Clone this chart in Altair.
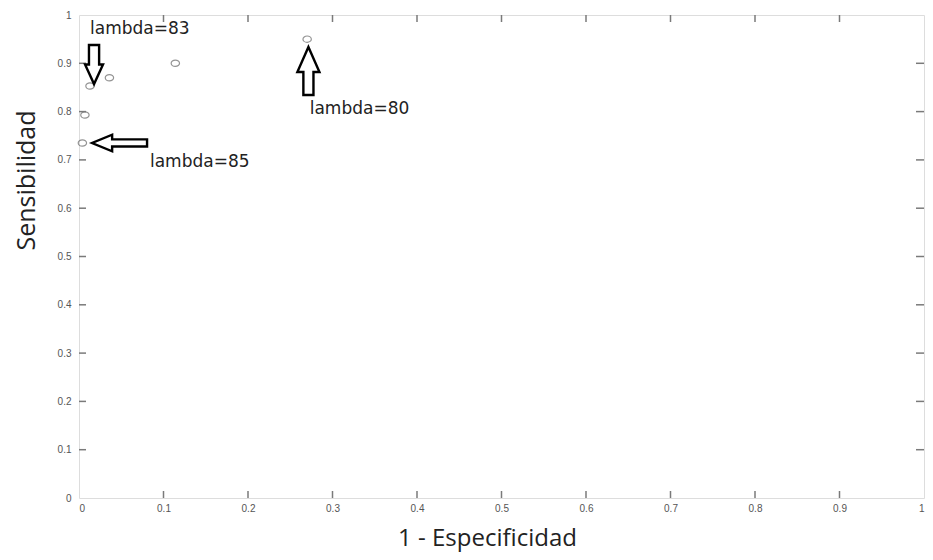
import altair as alt
import pandas as pd

# ROC points
fpr = [0.004, 0.007, 0.013, 0.036, 0.114, 0.270]
tpr = [0.735, 0.793, 0.853, 0.870, 0.900, 0.950]

# annotations
labels = ["lambda=83", "lambda=85", "lambda=80"]
label_x = [0.013, 0.084, 0.273]
label_y = [0.971, 0.696, 0.805]
arrow_x = [0.0178, 0.048, 0.2715]
arrow_y = [0.8975, 0.735, 0.884]
arrow_dir = ["down", "left", "up"]

tick_values = [0.1, 0.2, 0.3, 0.4, 0.5, 0.6, 0.7, 0.8, 0.9]
axis_values = [0, 0.1, 0.2, 0.3, 0.4, 0.5, 0.6, 0.7, 0.8, 0.9, 1]

W, H = 845, 483

pts = pd.DataFrame({"fpr": fpr, "tpr": tpr})
lab = pd.DataFrame({"label": labels, "x": label_x, "y": label_y})
arr = pd.DataFrame({"x": arrow_x, "y": arrow_y, "dir": arrow_dir})
ticks = pd.DataFrame({"v": tick_values})

xs = alt.Scale(domain=[0, 1], nice=False, zero=False)
ys = alt.Scale(domain=[0, 1], nice=False, zero=False)

lab_font = dict(labelFont="Liberation Sans", labelFontSize=10, labelColor="#555555")

base_x = alt.X("fpr:Q", scale=xs, axis=alt.Axis(
    values=axis_values, format="~g", tickSize=0, domain=False, grid=False,
    labelPadding=5, title="1 - Especificidad", titleFont="Open Sans",
    titleFontSize=24, titleFontWeight="normal", titleColor="#222222",
    titleX=408, titleY=40, titleBaseline="middle", titleAlign="center",
    labelFlush=True, **lab_font))
base_y = alt.Y("tpr:Q", scale=ys, axis=alt.Axis(
    values=axis_values, format="~g", tickSize=0, domain=False, grid=False,
    labelPadding=8, title="Sensibilidad", titleFont="Open Sans",
    titleFontSize=25, titleFontWeight="normal", titleColor="#222222",
    titleAngle=270, titleX=-53, titleY=165, titleBaseline="middle",
    titleAlign="center", labelFlush=False, **lab_font))

ellipse = "M -1,0 A 1,0.75 0 1,0 1,0 A 1,0.75 0 1,0 -1,0 Z"
points = alt.Chart(pts).mark_point(
    shape=ellipse, size=70, filled=False, stroke="#666666", strokeWidth=1.2
).encode(x=base_x, y=base_y)

tick_color = "#7a7a7a"
tb = alt.Chart(ticks).mark_rule(color=tick_color, strokeWidth=1.5).encode(
    x=alt.X("v:Q", scale=xs), y=alt.value(H), y2=alt.value(H - 7))
tt = alt.Chart(ticks).mark_rule(color=tick_color, strokeWidth=1.5).encode(
    x=alt.X("v:Q", scale=xs), y=alt.value(0), y2=alt.value(7))
tl = alt.Chart(ticks).mark_rule(color=tick_color, strokeWidth=1.5).encode(
    y=alt.Y("v:Q", scale=ys), x=alt.value(0), x2=alt.value(7))
tr = alt.Chart(ticks).mark_rule(color=tick_color, strokeWidth=1.5).encode(
    y=alt.Y("v:Q", scale=ys), x=alt.value(W), x2=alt.value(W - 8))

shapes = {
    "down": ("M -0.26,-1 L 0.26,-1 L 0.26,0 L 0.46,0 L 0,1 L -0.46,0 L -0.26,0 Z", 1521),
    "left": ("M 1,-0.13 L -0.27,-0.13 L -0.27,-0.3 L -1,0 L -0.27,0.3 L -0.27,0.13 L 1,0.13 Z", 3025),
    "up": ("M -0.21,1 L 0.21,1 L 0.21,0.04 L 0.46,0.04 L 0,-1 L -0.46,0.04 L -0.21,0.04 Z", 2304),
}
arrow_layers = []
for d, (path, sz) in shapes.items():
    arrow_layers.append(
        alt.Chart(arr[arr["dir"] == d]).mark_point(
            shape=path, size=sz, filled=False, stroke="#000000", strokeWidth=2.4,
            opacity=1
        ).encode(x=alt.X("x:Q", scale=xs), y=alt.Y("y:Q", scale=ys))
    )

texts = alt.Chart(lab).mark_text(
    align="left", baseline="middle", font="DejaVu Sans", fontSize=17, color="#222222"
).encode(x=alt.X("x:Q", scale=xs), y=alt.Y("y:Q", scale=ys), text="label:N")

chart = alt.layer(points, tb, tt, tl, tr, *arrow_layers, texts).properties(
    width=W, height=H,
    autosize=alt.AutoSizeParams(type="none"),
    padding={"left": 71, "top": 7, "right": 1, "bottom": 54},
).configure_view(stroke="#808080", strokeWidth=1.6).configure(background="white")

chart.save("out.html", embed_options={"renderer": "svg", "actions": False})
